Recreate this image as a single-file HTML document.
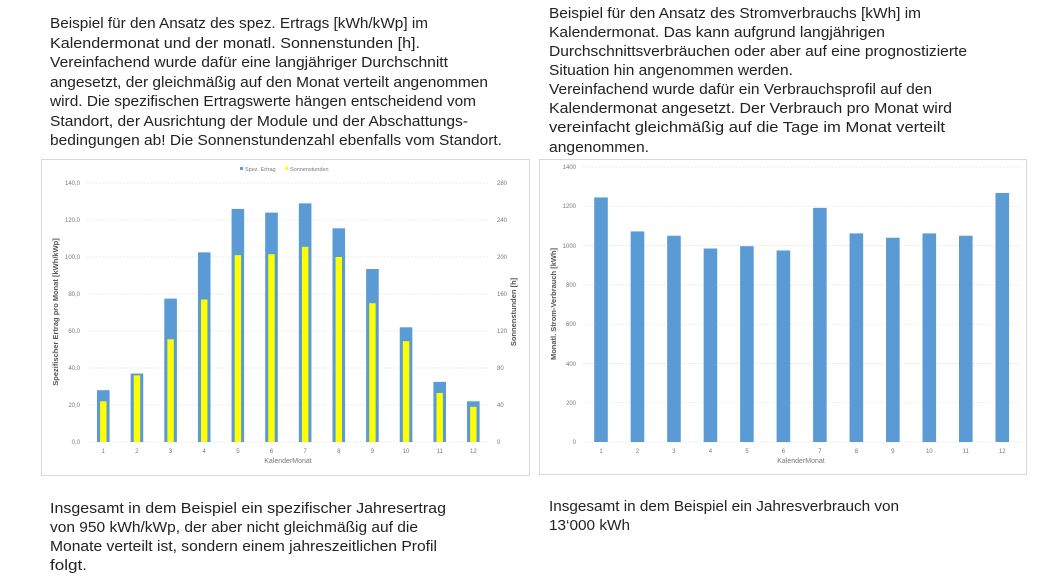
<!DOCTYPE html>
<html><head><meta charset="utf-8"><style>
html,body{margin:0;padding:0;background:#fff;}
svg{display:block;font-family:"Liberation Sans",sans-serif;}
.t{font-size:14.5px;fill:#222;}
.s{font-size:6px;fill:#777;}
</style></head><body>
<svg width="1040" height="577" viewBox="0 0 1040 577">
<g class="t">
<text x="50" y="28" textLength="378" lengthAdjust="spacingAndGlyphs">Beispiel für den Ansatz des spez. Ertrags [kWh/kWp] im</text>
<text x="50" y="48" textLength="370" lengthAdjust="spacingAndGlyphs">Kalendermonat und der monatl. Sonnenstunden [h].</text>
<text x="50" y="67" textLength="398" lengthAdjust="spacingAndGlyphs">Vereinfachend wurde dafür eine langjähriger Durchschnitt</text>
<text x="50" y="87" textLength="438" lengthAdjust="spacingAndGlyphs">angesetzt, der gleichmäßig auf den Monat verteilt angenommen</text>
<text x="50" y="106" textLength="426" lengthAdjust="spacingAndGlyphs">wird. Die spezifischen Ertragswerte hängen entscheidend vom</text>
<text x="50" y="126" textLength="418" lengthAdjust="spacingAndGlyphs">Standort, der Ausrichtung der Module und der Abschattungs-</text>
<text x="50" y="145" textLength="452" lengthAdjust="spacingAndGlyphs">bedingungen ab! Die Sonnenstundenzahl ebenfalls vom Standort.</text>

<text x="549" y="18" textLength="372" lengthAdjust="spacingAndGlyphs">Beispiel für den Ansatz des Stromverbrauchs [kWh] im</text>
<text x="549" y="37" textLength="336" lengthAdjust="spacingAndGlyphs">Kalendermonat. Das kann aufgrund langjährigen</text>
<text x="549" y="56" textLength="418" lengthAdjust="spacingAndGlyphs">Durchschnittsverbräuchen oder aber auf eine prognostizierte</text>
<text x="549" y="75" textLength="244" lengthAdjust="spacingAndGlyphs">Situation hin angenommen werden.</text>
<text x="549" y="94" textLength="383" lengthAdjust="spacingAndGlyphs">Vereinfachend wurde dafür ein Verbrauchsprofil auf den</text>
<text x="549" y="113" textLength="403" lengthAdjust="spacingAndGlyphs">Kalendermonat angesetzt. Der Verbrauch pro Monat wird</text>
<text x="549" y="132" textLength="396" lengthAdjust="spacingAndGlyphs">vereinfacht gleichmäßig auf die Tage im Monat verteilt</text>
<text x="549" y="152" textLength="100" lengthAdjust="spacingAndGlyphs">angenommen.</text>

<text x="50" y="513" textLength="396" lengthAdjust="spacingAndGlyphs">Insgesamt in dem Beispiel ein spezifischer Jahresertrag</text>
<text x="50" y="532" textLength="368" lengthAdjust="spacingAndGlyphs">von 950 kWh/kWp, der aber nicht gleichmäßig auf die</text>
<text x="50" y="551" textLength="387" lengthAdjust="spacingAndGlyphs">Monate verteilt ist, sondern einem jahreszeitlichen Profil</text>
<text x="50" y="570" textLength="37" lengthAdjust="spacingAndGlyphs">folgt.</text>

<text x="549" y="511" textLength="350" lengthAdjust="spacingAndGlyphs">Insgesamt in dem Beispiel ein Jahresverbrauch von</text>
<text x="549" y="530" textLength="81" lengthAdjust="spacingAndGlyphs">13‘000 kWh</text>
</g>

<!-- Chart 1 -->
<rect x="41.5" y="159.5" width="488" height="316" fill="#fff" stroke="#d9d9d9"/>
<g stroke="#e6e6e6" stroke-width="0.7" stroke-dasharray="2,1">
<line x1="87" x2="490" y1="183" y2="183"/><line x1="87" x2="490" y1="220" y2="220"/>
<line x1="87" x2="490" y1="257" y2="257"/><line x1="87" x2="490" y1="294" y2="294"/>
<line x1="87" x2="490" y1="331" y2="331"/><line x1="87" x2="490" y1="368" y2="368"/>
<line x1="87" x2="490" y1="405" y2="405"/><line x1="87" x2="490" y1="442" y2="442"/>
</g>
<g class="s" text-anchor="end">
<text x="80" y="185">140,0</text><text x="80" y="222">120,0</text><text x="80" y="259">100,0</text>
<text x="80" y="296">80,0</text><text x="80" y="333">60,0</text><text x="80" y="370">40,0</text>
<text x="80" y="407">20,0</text><text x="80" y="444">0,0</text>
</g>
<g class="s">
<text x="497" y="185">280</text><text x="497" y="222">240</text><text x="497" y="259">200</text>
<text x="497" y="296">160</text><text x="497" y="333">120</text><text x="497" y="370">80</text>
<text x="497" y="407">40</text><text x="497" y="444">0</text>
</g>
<g id="c1"></g>
<g class="s" text-anchor="middle" id="c1x"></g>
<text x="288" y="463" class="s" text-anchor="middle" style="font-size:7px">KalenderMonat</text>
<text transform="translate(58,312) rotate(-90)" text-anchor="middle" style="font-size:7.5px;fill:#555;font-weight:bold">Spezifischer Ertrag pro Monat [kWh/kWp]</text>
<text transform="translate(516,312) rotate(-90)" text-anchor="middle" style="font-size:7.5px;fill:#555;font-weight:bold">Sonnenstunden [h]</text>
<rect x="240" y="167" width="3" height="3" fill="#5b9bd5"/><text x="245" y="171" class="s" style="font-size:5.5px">Spez. Ertrag</text>
<rect x="285" y="167" width="3" height="3" fill="#ffff00"/><text x="290" y="171" class="s" style="font-size:5.5px">Sonnenstunden</text>

<!-- Chart 2 -->
<rect x="539.5" y="159.5" width="487" height="315" fill="#fff" stroke="#d9d9d9"/>
<g stroke="#e6e6e6" stroke-width="0.7" stroke-dasharray="2,1">
<line x1="583" x2="1021" y1="167" y2="167"/><line x1="583" x2="1021" y1="206.3" y2="206.3"/>
<line x1="583" x2="1021" y1="245.6" y2="245.6"/><line x1="583" x2="1021" y1="284.9" y2="284.9"/>
<line x1="583" x2="1021" y1="324.2" y2="324.2"/><line x1="583" x2="1021" y1="363.5" y2="363.5"/>
<line x1="583" x2="1021" y1="402.8" y2="402.8"/><line x1="583" x2="1021" y1="442" y2="442"/>
</g>
<g class="s" text-anchor="end">
<text x="576" y="169">1400</text><text x="576" y="208">1200</text><text x="576" y="248">1000</text>
<text x="576" y="287">800</text><text x="576" y="326">600</text><text x="576" y="366">400</text>
<text x="576" y="405">200</text><text x="576" y="444">0</text>
</g>
<g id="c2"></g>
<g class="s" text-anchor="middle" id="c2x"></g>
<text x="801" y="463" class="s" text-anchor="middle" style="font-size:7px">KalenderMonat</text>
<text transform="translate(556,304) rotate(-90)" text-anchor="middle" style="font-size:7.5px;fill:#555;font-weight:bold">Monatl. Strom-Verbrauch [kWh]</text>
</svg>
<script>
var NS="http://www.w3.org/2000/svg";
function el(p,t,a,txt){var e=document.createElementNS(NS,t);for(var k in a)e.setAttribute(k,a[k]);if(txt)e.textContent=txt;document.getElementById(p).appendChild(e);}
var b=[28,37,77.5,102.5,126,124,129,115.5,93.5,62,32.5,22];
var y=[22,36,55.5,77,101,101.5,105.5,100,75,54.5,26.5,19];
var s1=259/140;
for(var i=0;i<12;i++){var cx=103.3+i*33.64;
el("c1","rect",{x:cx-6.3,y:442-b[i]*s1,width:12.6,height:b[i]*s1,fill:"#5b9bd5"});
el("c1","rect",{x:cx-3.2,y:442-y[i]*s1,width:6.4,height:y[i]*s1,fill:"#ffff00"});
el("c1x","text",{x:cx,y:453},String(i+1));}
var v=[1245,1072,1050,985,997,975,1192,1062,1040,1062,1050,1268];
var s2=275/1400;
for(var i=0;i<12;i++){var cx=601+i*36.48;
el("c2","rect",{x:cx-6.8,y:442-v[i]*s2,width:13.6,height:v[i]*s2,fill:"#5b9bd5"});
el("c2x","text",{x:cx,y:453},String(i+1));}
</script>
</body></html>
